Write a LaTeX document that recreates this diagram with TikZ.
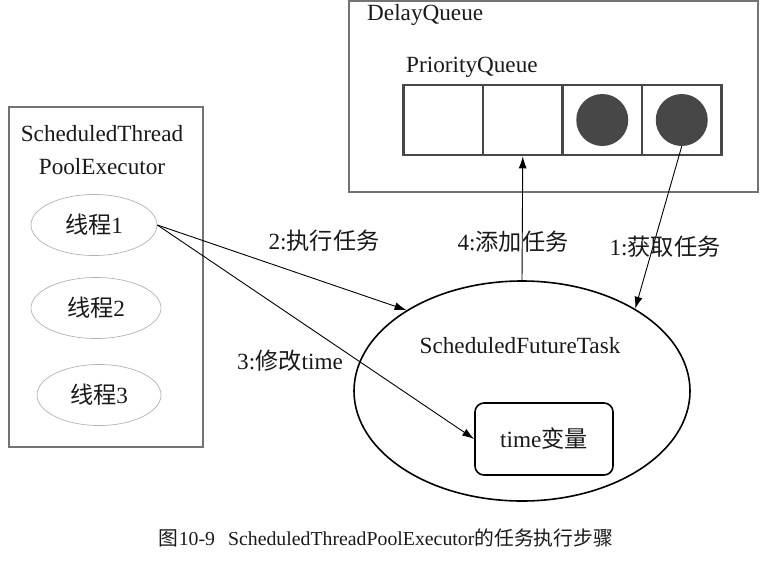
\documentclass[tikz,border=0pt]{standalone}
\usepackage{fontspec}
\setmainfont{Liberation Serif}
\newfontfamily\cjk{Noto Sans CJK SC}
\usetikzlibrary{shapes.geometric,arrows.meta}
\tikzset{
  frame/.style={draw=black!55,line width=2.6pt},
  cell/.style={draw=black!72,line width=2.6pt,minimum width=79.5pt,minimum height=70pt,inner sep=0pt},
  dot/.style={circle,fill=black!72,minimum size=52pt,inner sep=0pt},
  thread/.style={ellipse,draw=black!30,line width=0.7pt,minimum width=126pt,minimum height=61pt,inner sep=0pt},
  txt/.style={font=\fontsize{23.2}{33}\selectfont,inner sep=0pt,text=black!90},
  link/.style={->,line width=0.9pt},
}
\begin{document}
\begin{tikzpicture}[>={Latex[length=12pt,width=8pt]},x=1pt,y=-1pt]
\useasboundingbox (0,0) rectangle (775,573);
\begin{scope}
\draw[frame](349,1) rectangle (758,192);
\node[txt,anchor=west] (dq) at (367,15) {DelayQueue};
\node[txt,anchor=west] (pq) at (406,67) {PriorityQueue};
\node[cell] (c1) at (443.25,120) {};
\node[cell] (c2) at (522.75,120) {};
\node[cell] (c3) at (602.25,120) {};
\node[cell] (c4) at (681.75,120) {};
\node[dot] (d3) at (c3) {};
\node[dot] (d4) at (c4) {};
\end{scope}
\begin{scope}
\draw[frame](9,107) rectangle (203,447);
\node[txt,align=center] (stpe) at (102,150) {ScheduledThread\\PoolExecutor};
\node[thread,txt] (t1) at (94,225) {{\cjk 线程}1};
\node[thread,txt,minimum width=130pt] (t2) at (96,308) {{\cjk 线程}2};
\node[thread,txt,minimum width=124pt] (t3) at (99,395) {{\cjk 线程}3};
\end{scope}
\node[ellipse,draw,line width=1.6pt,minimum width=336pt,minimum height=220pt] (task) at (522,391) {};
\node[txt] (taskname) at (520,346) {ScheduledFutureTask};
\node[draw,line width=1.6pt,rounded corners=9pt,minimum width=138pt,minimum height=72pt,txt] (tvar) at (544,439) {time{\cjk 变量}};
\draw[link](t1.east)--(task.145);
\draw[link](t1.east)--(tvar.west);
\draw[link](task.north)--(c2.south);
\draw[link](d4.south)--(task.36);
\node[txt] (l2) at (324,241) {2:{\cjk 执行任务}};
\node[txt] (l4) at (513,242) {4:{\cjk 添加任务}};
\node[txt] (l1) at (665,247) {1:{\cjk 获取任务}};
\node[txt] (l3) at (290,361) {3:{\cjk 修改}time};
\node[txt,font=\fontsize{19.8}{22}\selectfont] (cap) at (386,538) {{\cjk 图}10-9\hspace{13pt}ScheduledThreadPoolExecutor{\cjk 的任务执行步骤}};
\end{tikzpicture}
\end{document}
